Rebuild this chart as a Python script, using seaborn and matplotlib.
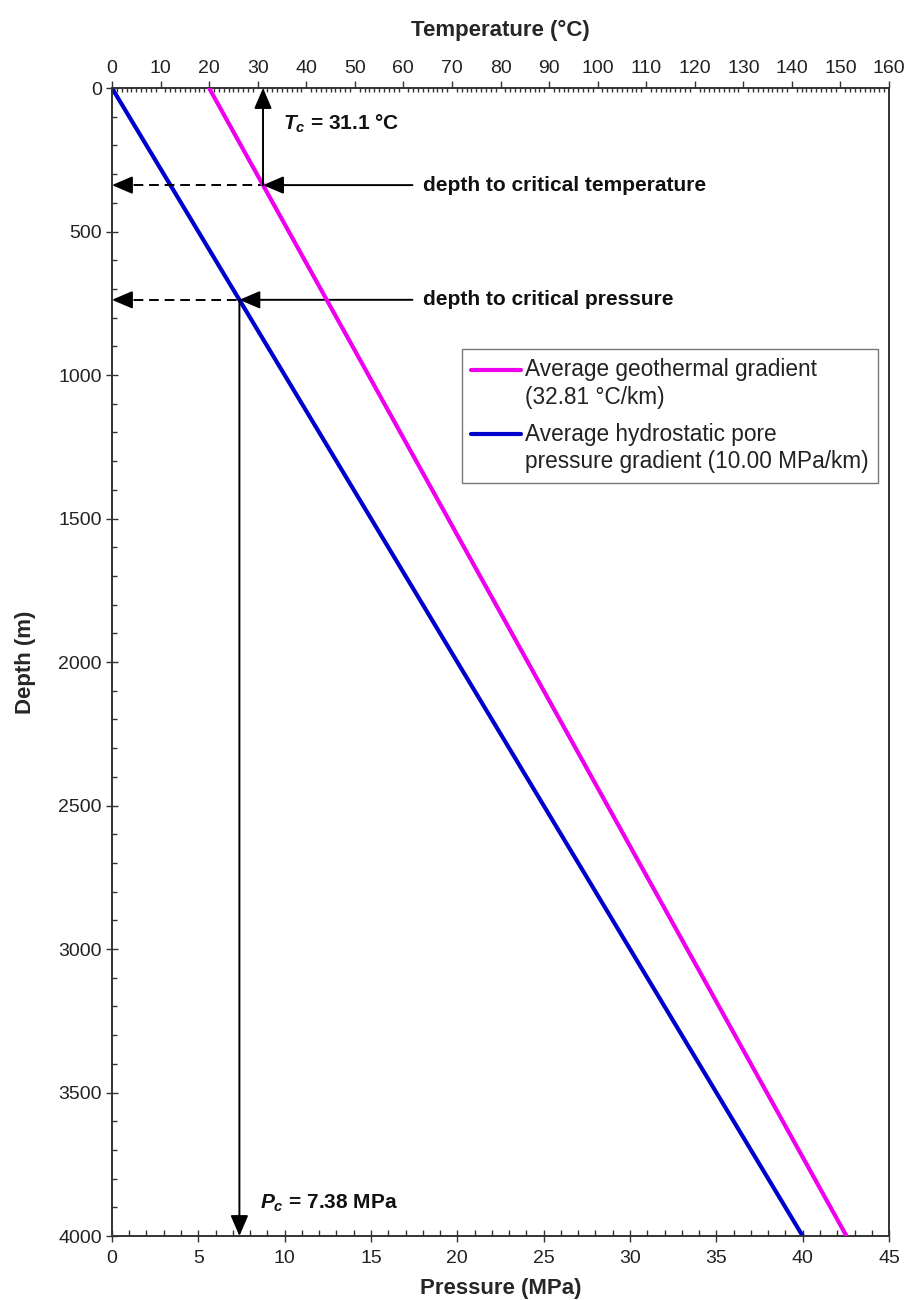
import numpy as np
import pandas as pd
import matplotlib
matplotlib.use("Agg")
import matplotlib.pyplot as plt
import seaborn as sns
from matplotlib.legend_handler import HandlerLine2D
from matplotlib.ticker import MultipleLocator

# ---------------- data ----------------
depth_m = [0, 4000]
temperature_c = [20.0, 151.24]          # 32.81 degC/km, 20 degC at surface
pressure_mpa = [0.0, 40.0]              # 10.00 MPa/km
critical_temperature = 31.1
critical_pressure = 7.38
depth_to_Tc = 338.3
depth_to_Pc = 738.0
arrow_tail_pressure = 17.4              # where horizontal pointer arrows start
label_temperature = "Average geothermal gradient\n(32.81 °C/km)"
label_pressure = "Average hydrostatic pore\npressure gradient (10.00 MPa/km)"
text_Tc = "$T_c$ = 31.1 °C"
text_Pc = "$P_c$ = 7.38 MPa"
text_depth_Tc = "depth to critical temperature"
text_depth_Pc = "depth to critical pressure"

MAGENTA = "#EE00EE"
BLUE = "#0000CC"
DARK = "#333333"

sns.set_theme(style="white")
plt.rcParams["font.family"] = ["Liberation Sans", "DejaVu Sans"]
plt.rcParams["mathtext.fontset"] = "custom"
plt.rcParams["mathtext.it"] = "Liberation Sans:italic:bold"
plt.rcParams["mathtext.rm"] = "Liberation Sans:bold"

fig = plt.figure(figsize=(9.11, 13), dpi=100)
ax = fig.add_axes([0.1229, 0.0492, 0.8530, 0.8831])
ax2 = ax.twiny()

df_p = pd.DataFrame({"pressure": pressure_mpa, "depth": depth_m})
df_t = pd.DataFrame({"temperature": temperature_c, "depth": depth_m})

sns.lineplot(data=df_p, x="pressure", y="depth", ax=ax, color=BLUE, lw=3,
             sort=False, estimator=None, zorder=3)
sns.lineplot(data=df_t, x="temperature", y="depth", ax=ax2, color=MAGENTA, lw=3,
             sort=False, estimator=None, zorder=3)

ax.set_xlim(0, 45)
ax.set_ylim(4000, 0)
ax2.set_xlim(0, 160)
ax2.set_ylim(4000, 0)

# ---------------- ticks / spines ----------------
ax.xaxis.set_major_locator(MultipleLocator(5))
ax.xaxis.set_minor_locator(MultipleLocator(1))
ax.yaxis.set_major_locator(MultipleLocator(500))
ax.yaxis.set_minor_locator(MultipleLocator(100))
ax2.xaxis.set_major_locator(MultipleLocator(10))
ax2.xaxis.set_minor_locator(MultipleLocator(1))

tick_kw = dict(color=DARK, width=1.0, labelcolor="#222222")
ax.tick_params(axis="x", which="major", direction="inout", length=8, bottom=True,
               top=False, labelsize=14, pad=6, **tick_kw)
ax.tick_params(axis="x", which="minor", direction="in", length=4, bottom=True,
               top=False, **tick_kw)
ax.tick_params(axis="y", which="major", direction="inout", length=8.5, left=True,
               right=False, labelsize=14, pad=3, **tick_kw)
ax.tick_params(axis="y", which="minor", direction="in", length=3.5, left=True,
               right=False, **tick_kw)
ax2.tick_params(axis="x", which="major", direction="out", length=5, top=True,
                bottom=False, labelsize=14, pad=3, **tick_kw)
ax2.tick_params(axis="x", which="minor", direction="in", length=3, top=True,
                bottom=False, **tick_kw)
ax2.tick_params(axis="y", left=False, right=False, labelleft=False, labelright=False)

for a in (ax, ax2):
    for s in a.spines.values():
        s.set_color(DARK)
        s.set_linewidth(1.2)

ax.set_xlabel("Pressure (MPa)", fontsize=16, fontweight="bold", labelpad=8)
ax.set_ylabel("Depth (m)", fontsize=16, fontweight="bold", labelpad=16)
ax2.set_xlabel("Temperature (°C)", fontsize=16, fontweight="bold", labelpad=17)

# ---------------- annotations ----------------
head = dict(arrowstyle="-|>,head_length=0.7,head_width=0.3", color="black",
            lw=1.4, shrinkA=0, shrinkB=0, mutation_scale=18)
txt_kw = dict(fontsize=15, fontweight="bold", ha="left", va="center", color="#111111")

# critical temperature: vertical arrow up to Tc on the temperature axis
ax2.annotate("", xy=(critical_temperature, 0), xytext=(critical_temperature, depth_to_Tc),
             arrowprops=head, zorder=5)
ax2.annotate("", xy=(critical_temperature, depth_to_Tc),
             xytext=(arrow_tail_pressure, depth_to_Tc), textcoords=ax.transData,
             arrowprops=head, zorder=5)
Tc_in_p = critical_temperature * 45 / 160
ax.plot([0.35, Tc_in_p], [depth_to_Tc, depth_to_Tc], color="black", lw=1.4,
        ls=(0, (5, 3)), zorder=4)
ax.annotate("", xy=(0, depth_to_Tc), xytext=(0.6, depth_to_Tc), arrowprops=head, zorder=5)
ax.text(arrow_tail_pressure + 0.6, depth_to_Tc, text_depth_Tc, **txt_kw)
ax.text(9.9, 125, text_Tc, **txt_kw)

# critical pressure
ax.annotate("", xy=(critical_pressure, 4000), xytext=(critical_pressure, depth_to_Pc),
            arrowprops=head, zorder=5)
ax.annotate("", xy=(critical_pressure, depth_to_Pc), xytext=(arrow_tail_pressure, depth_to_Pc),
            arrowprops=head, zorder=5)
ax.plot([0.35, critical_pressure], [depth_to_Pc, depth_to_Pc], color="black", lw=1.4,
        ls=(0, (5, 3)), zorder=4)
ax.annotate("", xy=(0, depth_to_Pc), xytext=(0.6, depth_to_Pc), arrowprops=head, zorder=5)
ax.text(arrow_tail_pressure + 0.6, depth_to_Pc, text_depth_Pc, **txt_kw)
ax.text(8.57, 3885, text_Pc, **txt_kw)


# ---------------- legend ----------------
class FirstLineHandler(HandlerLine2D):
    def create_artists(self, legend, orig_handle, xdescent, ydescent, width, height,
                       fontsize, trans):
        arts = super().create_artists(legend, orig_handle, xdescent, ydescent, width,
                                      height, fontsize, trans)
        for a in arts:
            y = np.asarray(a.get_ydata(), dtype=float)
            a.set_ydata(y + 0.64 * fontsize)
        return arts


h_t = ax2.get_lines()[0]
h_p = ax.get_lines()[0]
leg = ax2.legend([h_t, h_p], [label_temperature, label_pressure],
                 handler_map={h_t: FirstLineHandler(), h_p: FirstLineHandler()},
                 loc="upper right", bbox_to_anchor=(0.986, 0.7727),
                 bbox_transform=ax.transAxes, borderaxespad=0, fontsize=16.3,
                 frameon=True, fancybox=False, edgecolor="#555555",
                 handlelength=2.2, handletextpad=0.18, labelspacing=0.6,
                 borderpad=0.42)
leg.get_frame().set_linewidth(1.0)
for t in leg.get_texts():
    t.set_color("#222222")
    t.set_linespacing(1.25)

fig.savefig("out.png", dpi=100, facecolor="white")
